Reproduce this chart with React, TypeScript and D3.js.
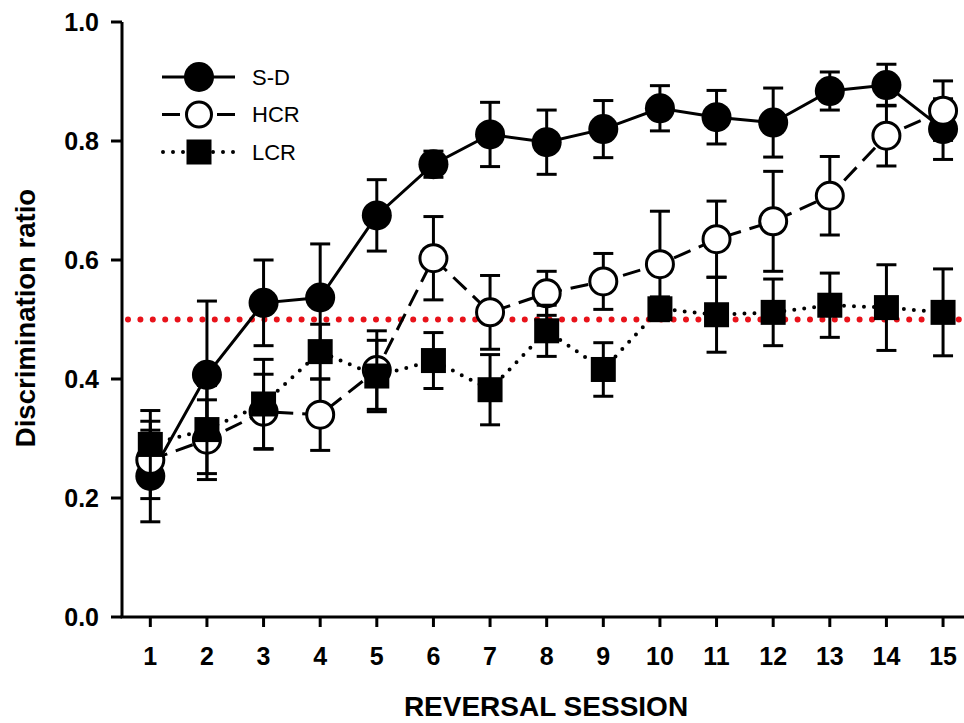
import React from 'react'
import * as d3 from 'd3'

// values (mean and SEM per reversal session)
const sessions = [1, 2, 3, 4, 5, 6, 7, 8, 9, 10, 11, 12, 13, 14, 15]
const yTicks = [0, 0.2, 0.4, 0.6, 0.8, 1.0]

const sdMean = [0.237, 0.407, 0.528, 0.537, 0.675, 0.761, 0.811, 0.798, 0.82, 0.855, 0.84, 0.831, 0.884, 0.894, 0.82]
const sdSem = [0.077, 0.124, 0.072, 0.09, 0.06, 0.022, 0.054, 0.054, 0.048, 0.038, 0.045, 0.058, 0.032, 0.035, 0.051]

const hcrMean = [0.264, 0.298, 0.345, 0.34, 0.415, 0.603, 0.512, 0.544, 0.564, 0.593, 0.635, 0.665, 0.708, 0.809, 0.851]
const hcrSem = [0.065, 0.067, 0.063, 0.06, 0.066, 0.07, 0.062, 0.037, 0.047, 0.089, 0.064, 0.084, 0.066, 0.051, 0.05]

const lcrMean = [0.29, 0.315, 0.358, 0.446, 0.405, 0.431, 0.382, 0.481, 0.416, 0.518, 0.508, 0.512, 0.524, 0.52, 0.512]
const lcrSem = [0.057, 0.074, 0.075, 0.046, 0.06, 0.047, 0.059, 0.043, 0.045, 0.02, 0.063, 0.056, 0.054, 0.072, 0.073]

const chanceLevel = 0.5

const W = 964
const H = 723
const x = d3.scaleLinear().domain([0.5, 15.37]).range([122, 964])
const y = d3.scaleLinear().domain([0, 1]).range([617, 22])

const series = [
  { name: 'S-D', mean: sdMean, sem: sdSem, marker: 'filled', dash: null },
  { name: 'HCR', mean: hcrMean, sem: hcrSem, marker: 'open', dash: '18 9' },
  { name: 'LCR', mean: lcrMean, sem: lcrSem, marker: 'square', dash: '0 10' },
]

const font = 'Liberation Sans, Arial, sans-serif'
const narrow = 'Liberation Sans Narrow, Arial Narrow, Liberation Sans, sans-serif'

function Marker({ kind, cx, cy, small }: { kind: string; cx: number; cy: number; small?: boolean }) {
  if (kind === 'filled') return <circle cx={cx} cy={cy} r={15} fill="#000" />
  if (kind === 'open') return <circle cx={cx} cy={cy} r={small ? 12.5 : 13.5} fill="#fff" stroke="#000" strokeWidth={3} />
  const s = 25
  return <rect x={cx - s / 2} y={cy - s / 2} width={s} height={s} fill="#000" />
}

export default function App() {
  const line = d3.line<number>().x((_, i) => x(sessions[i])).y(d => y(d))

  return (
    <svg width={W} height={H} style={{ position: 'absolute', left: 0, top: 0, background: '#fff' }}>
      {/* axes */}
      <line x1={122} x2={122} y1={y(1)} y2={y(0)} stroke="#000" strokeWidth={3} />
      <line x1={120.5} x2={W} y1={y(0)} y2={y(0)} stroke="#000" strokeWidth={3} />
      {yTicks.map(t => (
        <g key={t}>
          <line x1={111} x2={122} y1={y(t)} y2={y(t)} stroke="#000" strokeWidth={3} />
          <text x={99} y={y(t)} dy="0.35em" textAnchor="end" fontFamily={font} fontWeight="bold" fontSize={25}>
            {t.toFixed(1)}
          </text>
        </g>
      ))}
      {sessions.map(s => (
        <g key={s}>
          <line x1={x(s)} x2={x(s)} y1={y(0)} y2={y(0) + 10} stroke="#000" strokeWidth={3} />
          <text x={x(s)} y={665} textAnchor="middle" fontFamily={font} fontWeight="bold" fontSize={25}>
            {s}
          </text>
        </g>
      ))}
      <text x={546} y={716} textAnchor="middle" fontFamily={narrow} fontWeight="bold" fontSize={28}>
        REVERSAL SESSION
      </text>
      <text
        transform={`translate(35,318) rotate(-90)`}
        textAnchor="middle"
        fontFamily={font}
        fontWeight="bold"
        fontSize={27.5}
      >
        Discrimination ratio
      </text>

      {/* chance line */}
      <line
        x1={128}
        x2={W}
        y1={y(chanceLevel)}
        y2={y(chanceLevel)}
        stroke="#e8121a"
        strokeWidth={6}
        strokeDasharray="0 12.4"
        strokeLinecap="round"
      />

      {/* series */}
      {series.map(sr => (
        <g key={sr.name}>
          <path
            d={line(sr.mean) || ''}
            fill="none"
            stroke="#000"
            strokeWidth={sr.marker === 'square' ? 4 : 3}
            strokeDasharray={sr.dash || undefined}
            strokeLinecap={sr.marker === 'square' ? 'round' : 'butt'}
          />
          {sr.mean.map((m, i) => {
            const cx = x(sessions[i])
            const top = y(m + sr.sem[i])
            const bot = y(m - sr.sem[i])
            return (
              <g key={i} stroke="#000" strokeWidth={3}>
                <line x1={cx} x2={cx} y1={top} y2={bot} />
                <line x1={cx - 10} x2={cx + 10} y1={top} y2={top} />
                <line x1={cx - 10} x2={cx + 10} y1={bot} y2={bot} />
              </g>
            )
          })}
          {sr.mean.map((m, i) => (
            <Marker key={i} kind={sr.marker} cx={x(sessions[i])} cy={y(m)} />
          ))}
        </g>
      ))}

      {/* legend */}
      {series.map((sr, i) => {
        const ly = 77 + i * 37.5
        return (
          <g key={sr.name}>
            <line
              x1={sr.marker === 'square' ? 163 : 162}
              x2={235}
              y1={ly}
              y2={ly}
              stroke="#000"
              strokeWidth={sr.marker === 'square' ? 4 : 3}
              strokeDasharray={sr.marker === 'open' ? '18 37' : sr.dash || undefined}
              strokeLinecap={sr.marker === 'square' ? 'round' : 'butt'}
            />
            <Marker kind={sr.marker} cx={199} cy={ly} small />
            <text x={252} y={ly} dy="0.35em" fontFamily={font} fontSize={22}>
              {sr.name}
            </text>
          </g>
        )
      })}
    </svg>
  )
}
